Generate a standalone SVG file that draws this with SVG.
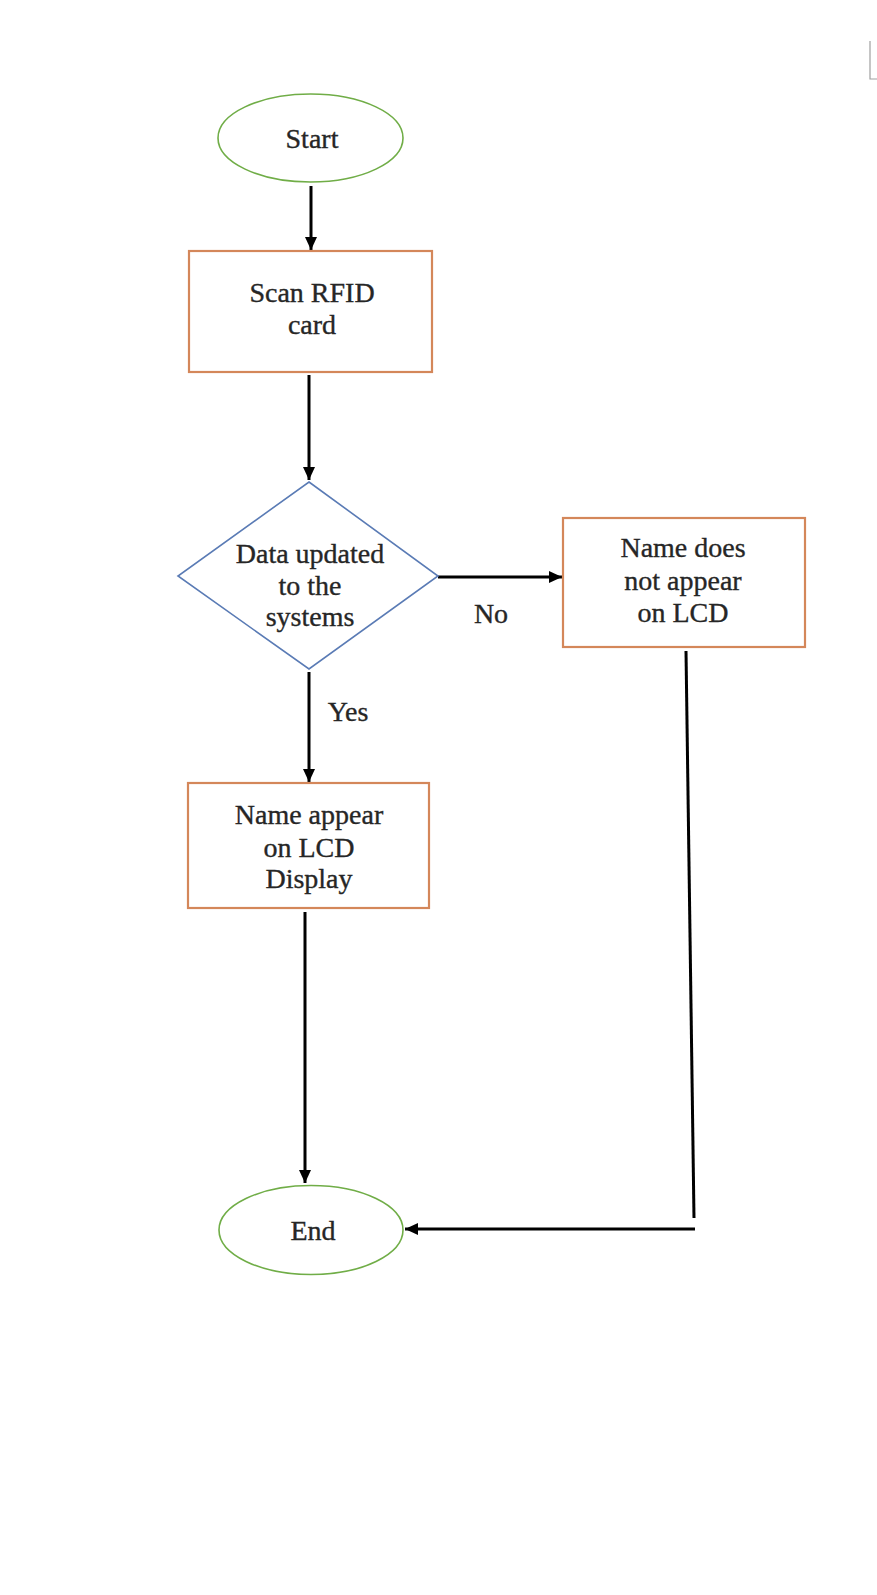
<svg xmlns="http://www.w3.org/2000/svg" width="877" height="1595" viewBox="0 0 877 1595">
<defs>
<marker id="ah" markerUnits="userSpaceOnUse" markerWidth="13" markerHeight="12" refX="13" refY="6" orient="auto">
<path d="M0,0 L13,6 L0,12 z" fill="#000"/>
</marker>
<style>
.term{fill:#fff;stroke:#70AD47;stroke-width:1.6}
.proc{fill:#fff;stroke:#D4875A;stroke-width:2.2}
.dec{fill:#fff;stroke:#5A7BB5;stroke-width:1.6}
.t{font-family:"Liberation Serif","Times New Roman",serif;font-size:28px;fill:#262626;stroke:#262626;stroke-width:0.35;text-anchor:middle}
.c{stroke:#000;stroke-width:3;fill:none}
</style>
</defs>
<rect width="877" height="1595" fill="#fff"/>
<path d="M870,41 L870,79 L877,79" stroke="#a0a0a0" stroke-width="1.2" fill="none"/>
<g id="connectors">
<line class="c" x1="311" y1="186" x2="311" y2="250" marker-end="url(#ah)"/>
<line class="c" x1="309" y1="375" x2="309" y2="480" marker-end="url(#ah)"/>
<line class="c" x1="438" y1="577" x2="562" y2="577" marker-end="url(#ah)"/>
<line class="c" x1="309" y1="672" x2="309" y2="782" marker-end="url(#ah)"/>
<line class="c" x1="305" y1="912" x2="305" y2="1183" marker-end="url(#ah)"/>
<line class="c" x1="686" y1="651" x2="694" y2="1218"/>
<line class="c" x1="695" y1="1229" x2="405" y2="1229" marker-end="url(#ah)"/>
<text class="t" x="491" y="623">No</text>
<text class="t" x="348" y="721">Yes</text>
</g>
<g id="start">
<ellipse class="term" cx="310.5" cy="138" rx="92.5" ry="44"/>
<text class="t" x="312" y="148">Start</text>
</g>
<g id="scan">
<rect class="proc" x="189" y="251" width="243" height="121"/>
<text class="t" x="312" y="302">Scan RFID</text>
<text class="t" x="312" y="334">card</text>
</g>
<g id="decision">
<polygon class="dec" points="309,482 438,576 309,669 178,576"/>
<text class="t" x="310" y="563">Data updated</text>
<text class="t" x="310" y="595">to the</text>
<text class="t" x="310" y="626">systems</text>
</g>
<g id="noname">
<rect class="proc" x="563" y="518" width="242" height="129"/>
<text class="t" x="683" y="557">Name does</text>
<text class="t" x="683" y="590">not appear</text>
<text class="t" x="683" y="622">on LCD</text>
</g>
<g id="name">
<rect class="proc" x="188" y="783" width="241" height="125"/>
<text class="t" x="309" y="824">Name appear</text>
<text class="t" x="309" y="857">on LCD</text>
<text class="t" x="309" y="888">Display</text>
</g>
<g id="end">
<ellipse class="term" cx="311" cy="1230" rx="92" ry="44.5"/>
<text class="t" x="313" y="1240">End</text>
</g>
</svg>
